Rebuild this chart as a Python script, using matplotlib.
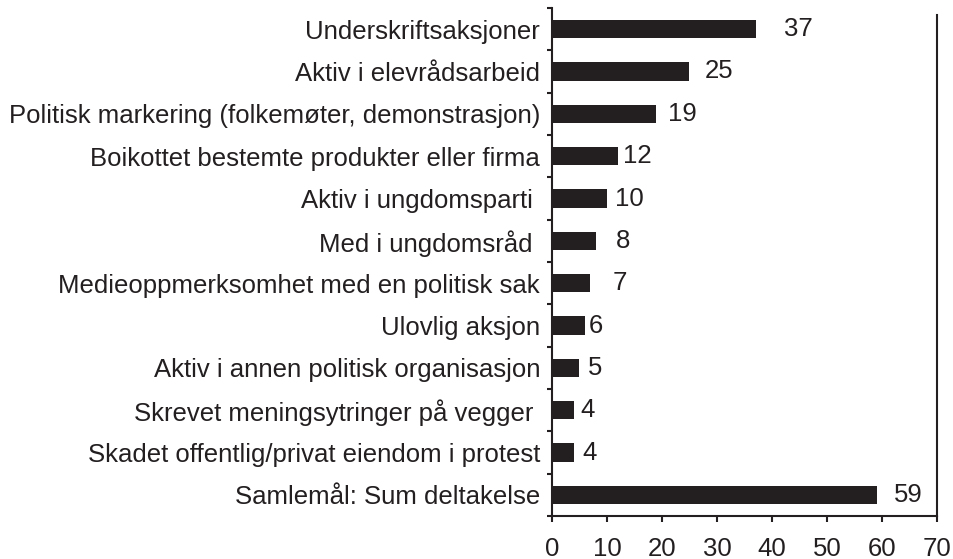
import matplotlib.pyplot as plt
import numpy as np

# data, top to bottom as in the chart
categories = [
    "Underskriftsaksjoner",
    "Aktiv i elevrådsarbeid",
    "Politisk markering (folkemøter, demonstrasjon)",
    "Boikottet bestemte produkter eller firma",
    "Aktiv i ungdomsparti ",
    "Med i ungdomsråd ",
    "Medieoppmerksomhet med en politisk sak",
    "Ulovlig aksjon",
    "Aktiv i annen politisk organisasjon",
    "Skrevet meningsytringer på vegger ",
    "Skadet offentlig/privat eiendom i protest",
    "Samlemål: Sum deltakelse",
]
values = [37, 25, 19, 12, 10, 8, 7, 6, 5, 4, 4, 59]
xticks = [0, 10, 20, 30, 40, 50, 60, 70]

# the value labels sit at uneven distances from the bar ends in the original
label_gap_px = [28, 15, 12, 5, 8, 20, 22, 4, 8, 6, 8, 17]

dark = '#231f20'
fs = 18.5
plt.rcParams['font.family'] = ['Liberation Sans', 'DejaVu Sans']

fig = plt.figure(figsize=(9.54, 5.59), dpi=100)
ax = fig.add_axes([0.5786, 0.0769, 0.9822 - 0.5786, 0.9857 - 0.0769])

y = np.arange(len(categories))
ax.barh(y, values, height=0.44, color=dark)

for yi, v, gap in zip(y, values, label_gap_px):
    ax.annotate(str(v), xy=(v, yi), xytext=(gap, 0), textcoords='offset pixels',
                ha='left', va='center', fontsize=fs, color=dark)

ax.set_xlim(0, 70)
ax.set_ylim(len(categories) - 0.5, -0.5)
ax.set_xticks(xticks)
ax.set_yticks(y)
ax.set_yticklabels(categories)
ax.set_yticks(np.arange(len(categories) + 1) - 0.5, minor=True)

ax.tick_params(axis='y', which='major', length=0, pad=8.6, labelsize=fs, labelcolor=dark)
ax.tick_params(axis='y', which='minor', length=3.5, width=1.5, color=dark, direction='out')
ax.tick_params(axis='x', which='major', length=4, width=1.5, color=dark, pad=11,
               labelsize=fs, labelcolor=dark)

ax.spines['top'].set_visible(False)
for side in ['left', 'bottom', 'right']:
    ax.spines[side].set_linewidth(1.5)
    ax.spines[side].set_color(dark)
ax.spines['right'].set_bounds(len(categories) - 0.5, -0.34)

fig.savefig('out.png', dpi=100)
